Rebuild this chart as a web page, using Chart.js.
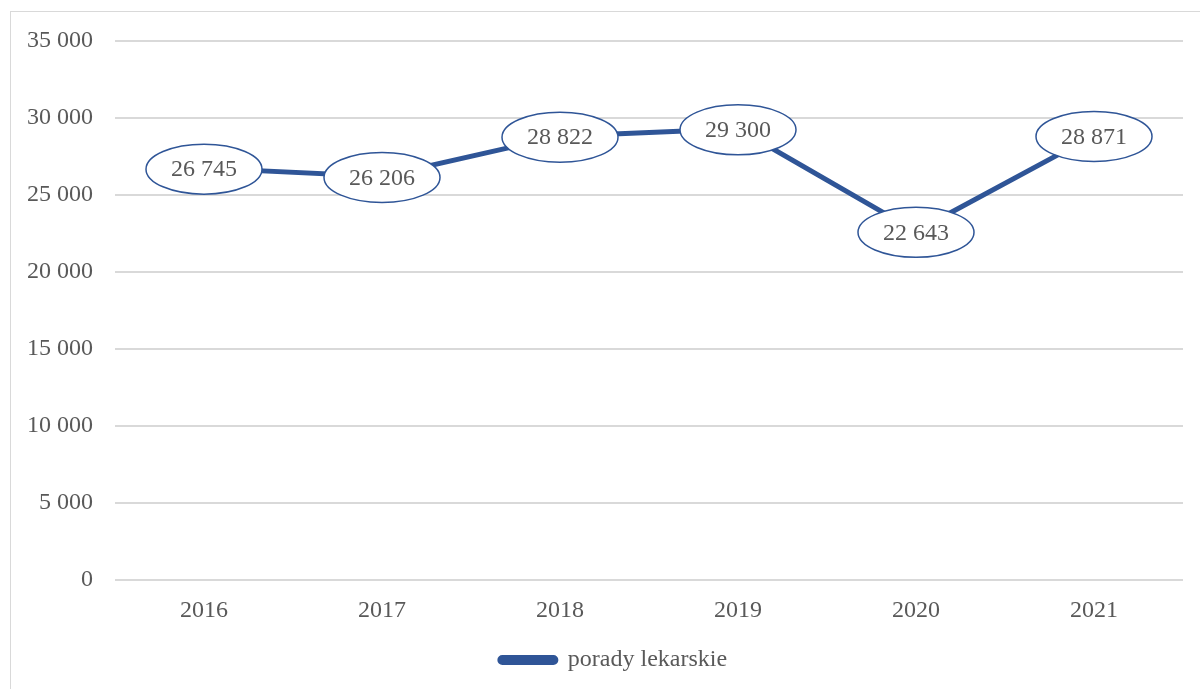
<!DOCTYPE html>
<html>
<head>
<meta charset="utf-8">
<script src="https://cdn.jsdelivr.net/npm/chart.js@4/dist/chart.umd.min.js"></script>
<style>
  html, body { margin: 0; padding: 0; background: #fff; }
  #wrap { position: relative; width: 1200px; height: 689px; overflow: hidden; }
  #frame { position: absolute; left: 10px; top: 11px; width: 1300px; height: 800px; border: 1px solid #d9d9d9; box-sizing: border-box; }
  canvas { position: absolute; left: 0; top: 0; }
</style>
</head>
<body>
<div id="wrap">
  <div id="frame"></div>
  <canvas id="chart" width="1200" height="689"></canvas>
</div>
<script>
document.addEventListener('DOMContentLoaded', function() {
    // Dane
    const lata = ['2016', '2017', '2018', '2019', '2020', '2021'];
    const porady = [26745, 26206, 28822, 29300, 22643, 28871];
    const yTicks = [0, 5000, 10000, 15000, 20000, 25000, 30000, 35000];

    const niebieski = '#2F5597';
    const szary = '#595959';
    const font = "'Liberation Serif', 'Times New Roman', serif";

    function fmt(v) {
        return String(v).replace(/\B(?=(\d{3})+(?!\d))/g, ' ');
    }

    // Etykiety w elipsach
    const elipsy = {
        id: 'elipsy',
        afterDatasetsDraw(chart) {
            const ctx = chart.ctx;
            const meta = chart.getDatasetMeta(0);
            ctx.save();
            meta.data.forEach((pt, i) => {
                ctx.beginPath();
                ctx.ellipse(pt.x, pt.y + 1, 58, 25, 0, 0, Math.PI * 2);
                ctx.fillStyle = '#fff';
                ctx.fill();
                ctx.lineWidth = 1.5;
                ctx.strokeStyle = niebieski;
                ctx.stroke();
                ctx.fillStyle = szary;
                ctx.font = '24px ' + font;
                ctx.textAlign = 'center';
                ctx.textBaseline = 'middle';
                ctx.fillText(fmt(porady[i]), pt.x, pt.y + 2);
            });
            ctx.restore();
        }
    };

    // Przesunięcie legendy w prawo
    const legendaShift = {
        id: 'legendaShift',
        afterLayout(chart) {
            chart.legend._baseLeft = chart.legend.left;
            chart.legend._baseRight = chart.legend.right;
        },
        beforeDraw(chart) {
            chart.legend.left = chart.legend._baseLeft + 22;
            chart.legend.right = chart.legend._baseRight + 22;
        }
    };

    new Chart(document.getElementById('chart'), {
        type: 'line',
        data: {
            labels: lata,
            datasets: [{
                label: 'porady lekarskie',
                data: porady,
                borderColor: niebieski,
                backgroundColor: niebieski,
                borderWidth: 5,
                pointRadius: 0,
                tension: 0,
                borderCapStyle: 'round'
            }]
        },
        options: {
            responsive: false,
            animation: false,
            layout: { padding: { left: 0, right: 17, top: 41, bottom: 7 } },
            plugins: {
                tooltip: { enabled: false },
                legend: {
                    position: 'bottom',
                    labels: {
                        color: szary,
                        font: { family: font, size: 24 },
                        boxWidth: 56,
                        boxHeight: 5,
                        useBorderRadius: true,
                        borderRadius: 2.5,
                        padding: 10
                    }
                }
            },
            scales: {
                x: {
                    offset: true,
                    grid: { display: false },
                    border: { display: false },
                    ticks: { color: szary, font: { family: font, size: 24 }, padding: 8 },
                    afterFit(scale) { scale.height = 58; }
                },
                y: {
                    min: 0,
                    max: 35000,
                    afterBuildTicks(scale) { scale.ticks = yTicks.map(v => ({ value: v })); },
                    grid: { color: '#d9d9d9', lineWidth: 2, drawTicks: false },
                    border: { display: false },
                    ticks: { color: szary, font: { family: font, size: 24 }, padding: 22, callback: v => fmt(v) },
                    afterFit(scale) { scale.width = 115; }
                }
            }
        },
        plugins: [elipsy, legendaShift]
    });
});
</script>
</body>
</html>
